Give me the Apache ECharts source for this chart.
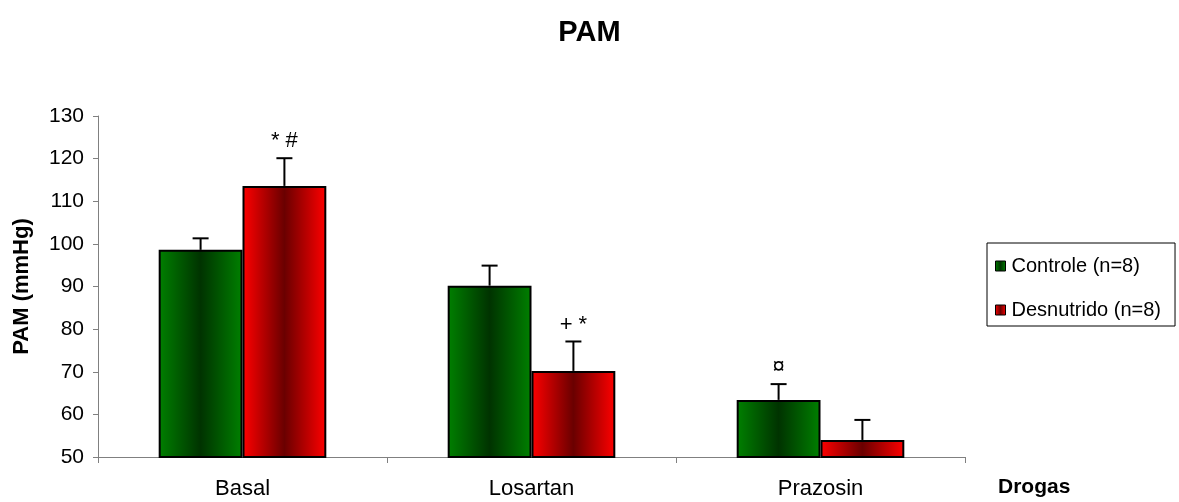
<!DOCTYPE html>
<html><head><meta charset="utf-8">
<script src="https://cdn.jsdelivr.net/npm/echarts@6/dist/echarts.min.js"></script>
<style>html,body{margin:0;padding:0;background:#fff}#c{width:1179px;height:502px}</style>
</head><body><div id="c"></div>
<script>
const categories = ['Basal', 'Losartan', 'Prazosin'];
const seriesNames = ['Controle (n=8)', 'Desnutrido (n=8)'];
const controle = [98.6, 90.2, 63.4];
const controleErr = [2.7, 4.7, 3.7];
const desnutrido = [113.6, 70.2, 54.0];
const desnutridoErr = [6.5, 6.9, 4.7];
const controleMarks = ['', '', '¤'];
const desnutridoMarks = ['* #', '+ *', ''];
const yTicks = { min: 50, max: 130, interval: 10 };

const FONT = 'Liberation Sans, Arial, sans-serif';
const BAR_CAT_GAP = 0.42;

function grad(edge, mid) {
  return new echarts.graphic.LinearGradient(0, 0, 1, 0, [
    { offset: 0, color: edge }, { offset: 0.5, color: mid }, { offset: 1, color: edge }
  ]);
}
const greenFill = grad('#008000', '#003300');
const redFill = grad('#ff0000', '#6a0000');

function errSeries(name, vals, errs, marks, sign) {
  return {
    type: 'custom', name: name, z: 5,
    data: vals.map((v, i) => [i, v, errs[i]]),
    renderItem: function (params, api) {
      const c = api.value(0), v = api.value(1), e = api.value(2);
      const base = api.coord([c, v]);
      const top = api.coord([c, v + e]);
      const bw = api.size([1, 0])[0] * (1 - BAR_CAT_GAP) / 2;
      const x = base[0] + sign * bw / 2;
      const st = { stroke: '#000', lineWidth: 2 };
      const children = [
        { type: 'line', shape: { x1: x, y1: base[1], x2: x, y2: top[1] }, style: st },
        { type: 'line', shape: { x1: x - 8, y1: top[1], x2: x + 8, y2: top[1] }, style: st }
      ];
      const m = marks[params.dataIndex];
      if (m) {
        children.push({ type: 'text', style: { text: m, x: x, y: top[1] - 6, align: 'center', verticalAlign: 'bottom', font: '22px ' + FONT, fill: '#000' } });
      }
      return { type: 'group', children: children };
    }
  };
}

const chart = echarts.init(document.getElementById('c'));
chart.setOption({
  animation: false,
  backgroundColor: '#fff',
  title: { text: 'PAM', left: 'center', top: 13, textStyle: { fontFamily: FONT, fontWeight: 'bold', fontSize: 29, color: '#000' } },
  grid: { left: 98, right: 214, top: 116, bottom: 45, containLabel: false },
  legend: {
    orient: 'vertical', left: 987, top: 243,
    data: seriesNames, icon: 'rect', itemWidth: 10, itemHeight: 10, itemGap: 24,
    padding: [13, 14, 6, 8],
    borderColor: '#000', borderWidth: 1,
    textStyle: { fontFamily: FONT, fontSize: 20, color: '#000', padding: [0, 0, 0, 1] },
    itemStyle: { borderColor: '#000', borderWidth: 1 }
  },
  xAxis: {
    type: 'category', data: categories, boundaryGap: true,
    axisLine: { lineStyle: { color: '#808080', width: 1 } },
    axisTick: { show: true, length: 6, lineStyle: { color: '#808080' } },
    axisLabel: { fontFamily: FONT, fontSize: 22, color: '#000', margin: 21 }
  },
  yAxis: {
    type: 'value', min: yTicks.min, max: yTicks.max, interval: yTicks.interval,
    name: 'PAM (mmHg)', nameLocation: 'middle', nameRotate: 90, nameGap: 65,
    nameTextStyle: { fontFamily: FONT, fontSize: 22, fontWeight: 'bold', color: '#000' },
    axisLine: { show: true, lineStyle: { color: '#808080', width: 1 } },
    axisTick: { show: true, length: 5, lineStyle: { color: '#808080' } },
    splitLine: { show: false },
    axisLabel: { fontFamily: FONT, fontSize: 21, color: '#000', margin: 14 }
  },
  graphic: [{ type: 'text', left: 998, top: 477, style: { text: 'Drogas', font: 'bold 21px ' + FONT, fill: '#000' } }],
  series: [
    { type: 'bar', name: seriesNames[0], data: controle, barGap: '0%', barCategoryGap: (BAR_CAT_GAP * 100) + '%',
      itemStyle: { color: greenFill, borderColor: '#000', borderWidth: 2 } },
    { type: 'bar', name: seriesNames[1], data: desnutrido, barGap: '0%', barCategoryGap: (BAR_CAT_GAP * 100) + '%',
      itemStyle: { color: redFill, borderColor: '#000', borderWidth: 2 } },
    errSeries('errC', controle, controleErr, controleMarks, -1),
    errSeries('errD', desnutrido, desnutridoErr, desnutridoMarks, 1)
  ]
});
</script></body></html>
